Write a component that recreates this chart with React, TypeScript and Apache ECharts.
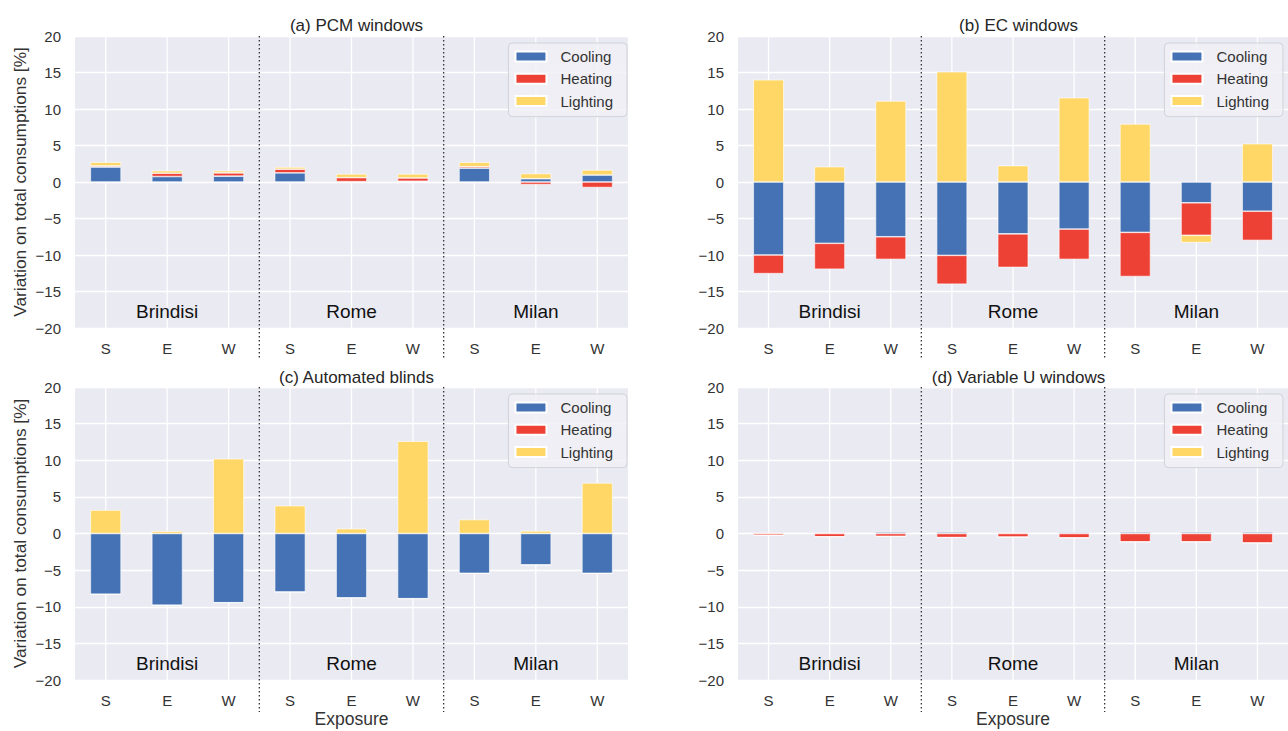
import React, { useEffect, useRef } from "react";
import * as echarts from "echarts";

const exposures = ["S", "E", "W", "S", "E", "W", "S", "E", "W"];
const cities = ["Brindisi", "Rome", "Milan"];
const seriesNames = ["Cooling", "Heating", "Lighting"];
const seriesColors = ["#4472B4", "#EE4136", "#FED766"];
const panelTitles = ["(a) PCM windows", "(b) EC windows", "(c) Automated blinds", "(d) Variable U windows"];
const cityLabelY = -17.8;

// (a) PCM windows
const pcmCooling = [2.05, 0.75, 0.8, 1.25, 0.05, 0.1, 1.9, 0.45, 0.95];
const pcmHeating = [0.15, 0.45, 0.45, 0.5, 0.55, 0.45, 0.2, -0.35, -0.75];
const pcmLighting = [0.5, 0.35, 0.3, 0.3, 0.5, 0.55, 0.6, 0.7, 0.7];

// (b) EC windows
const ecCooling = [-10.0, -8.4, -7.5, -10.05, -7.1, -6.45, -6.9, -2.85, -4.0];
const ecHeating = [-2.55, -3.55, -3.1, -3.95, -4.6, -4.15, -6.05, -4.45, -4.0];
const ecLighting = [14.0, 2.1, 11.1, 15.1, 2.25, 11.55, 7.95, -1.0, 5.25];

// (c) Automated blinds
const blindsCooling = [-8.3, -9.8, -9.45, -8.0, -8.8, -8.9, -5.45, -4.3, -5.45];
const blindsHeating = [0, 0, 0, 0, 0, 0, 0, 0, 0];
const blindsLighting = [3.2, 0.3, 10.2, 3.8, 0.65, 12.6, 1.9, 0.35, 6.9];

// (d) Variable U windows
const uCooling = [0, 0.05, 0.2, 0.2, 0.05, 0.15, 0.2, 0.2, 0.2];
const uHeating = [-0.25, -0.45, -0.4, -0.55, -0.5, -0.6, -1.15, -1.15, -1.3];
const uLighting = [0, 0, 0, 0, 0, 0, 0, 0, 0];

const panelData = [
  [pcmCooling, pcmHeating, pcmLighting],
  [ecCooling, ecHeating, ecLighting],
  [blindsCooling, blindsHeating, blindsLighting],
  [uCooling, uHeating, uLighting],
];

const FONT = '"Liberation Sans", Arial, sans-serif';
const TEXT = "#333333";

const grids = [
  { left: 75, top: 36, width: 553, height: 292 },
  { left: 738, top: 36, width: 553, height: 292 },
  { left: 75, top: 387, width: 553, height: 293 },
  { left: 738, top: 387, width: 553, height: 293 },
];

const fmt = (v: number) => (v < 0 ? "\u2212" + Math.abs(v) : String(v));

export default function App() {
  const ref = useRef<HTMLDivElement>(null);
  useEffect(() => {
    if (!ref.current) return;
    const chart = echarts.init(ref.current, undefined, { renderer: "svg" });

    const series: any[] = [];
    panelData.forEach((arrs, p) => {
      arrs.forEach((vals, k) => {
        series.push({
          type: "bar",
          name: seriesNames[k],
          xAxisIndex: p,
          yAxisIndex: p,
          stack: "panel" + p,
          barWidth: "50%",
          z: 3,
          itemStyle: { color: seriesColors[k], borderColor: "#ffffff", borderWidth: 0.6 },
          data: vals,
        });
      });
      series.push({
        type: "custom",
        xAxisIndex: p,
        yAxisIndex: p,
        z: 1,
        silent: true,
        clip: false,
        data: cities.map((c, i) => [i * 3 + 1, cityLabelY]),
        renderItem: (params: any, api: any) => {
          const i = params.dataIndex;
          const children: any[] = [];
          const top = api.coord([0, 20])[1];
          const bottom = api.coord([0, -20])[1];
          for (let k = 0; k < 3; k++) {
            const x = api.coord([i * 3 + k, 0])[0];
            children.push({
              type: "line",
              shape: { x1: x, y1: top, x2: x, y2: bottom },
              style: { stroke: "#ffffff", lineWidth: 1.3 },
            });
          }
          if (i > 0) {
            const xa = api.coord([i * 3 - 1, 0])[0];
            const xb = api.coord([i * 3, 0])[0];
            const xm = (xa + xb) / 2;
            children.push({
              type: "line",
              z2: 5,
              shape: { x1: xm, y1: top, x2: xm, y2: bottom + 32 },
              style: { stroke: "#333333", lineWidth: 1.3, lineDash: [1.5, 2.5] },
            });
          }
          const c = api.coord([api.value(0), api.value(1)]);
          children.push({
            type: "text",
            x: c[0],
            y: c[1],
            z2: 6,
            style: {
              text: cities[i],
              fill: "#111111",
              font: `19px ${FONT}`,
              align: "center",
              verticalAlign: "middle",
            },
          });
          return { type: "group", children };
        },
      });
    });

    const option: any = {
      animation: false,
      backgroundColor: "#ffffff",
      textStyle: { fontFamily: FONT },
      title: grids.map((g, p) => ({
        text: panelTitles[p],
        left: g.left + g.width / 2 - (p % 2 === 1 ? 1 : 0),
        top: g.top - (p < 2 ? 24 : 23),
        textAlign: "center",
        textStyle: { fontFamily: FONT, fontSize: 17, fontWeight: "normal", color: "#262626" },
      })),
      legend: grids.map((g) => ({
        data: seriesNames,
        orient: "vertical",
        right: 1288 - (g.left + g.width > 1288 ? 1283 : g.left + g.width - 1),
        top: g.top + 7,
        itemWidth: 31,
        itemHeight: 10,
        itemGap: 5.3,
        padding: [5, 14, 7, 6],
        backgroundColor: "rgba(240,240,246,0.85)",
        borderColor: "#d2d2da",
        borderWidth: 1,
        borderRadius: 4,
        icon: "rect",
        selectedMode: false,
        textStyle: { fontFamily: FONT, fontSize: 15, color: TEXT, lineHeight: 17, padding: [0, 0, 0, 9] },
      })),
      grid: grids.map((g) => ({
        ...g,
        show: true,
        backgroundColor: "#EAEAF2",
        borderWidth: 0,
        containLabel: false,
      })),
      xAxis: grids.map((g, p) => ({
        type: "category",
        gridIndex: p,
        data: exposures,
        axisLine: { show: false },
        axisTick: { show: false },
        splitLine: { show: false },
        axisLabel: { fontFamily: FONT, fontSize: 15, color: TEXT, margin: 13 },
        name: p >= 2 ? "Exposure" : "",
        nameLocation: "middle",
        nameGap: 30,
        nameTextStyle: { fontFamily: FONT, fontSize: 17.5, color: TEXT },
      })),
      yAxis: grids.map((g, p) => ({
        type: "value",
        gridIndex: p,
        min: -20,
        max: 20,
        interval: 5,
        axisLine: { show: false },
        axisTick: { show: false },
        splitLine: { show: true, lineStyle: { color: "#ffffff", width: 1.3 } },
        axisLabel: { fontFamily: FONT, fontSize: 15, color: TEXT, margin: 14, formatter: fmt },
        name: p % 2 === 0 ? "Variation on total consumptions [%]" : "",
        nameLocation: "middle",
        nameGap: 47,
        nameRotate: 90,
        nameTextStyle: { fontFamily: FONT, fontSize: 17.3, color: TEXT },
      })),
      series,
    };
    chart.setOption(option);
    return () => chart.dispose();
  }, []);

  return (
    <div
      ref={ref}
      style={{ position: "absolute", left: 0, top: 0, width: 1288, height: 731, background: "#ffffff" }}
    />
  );
}
